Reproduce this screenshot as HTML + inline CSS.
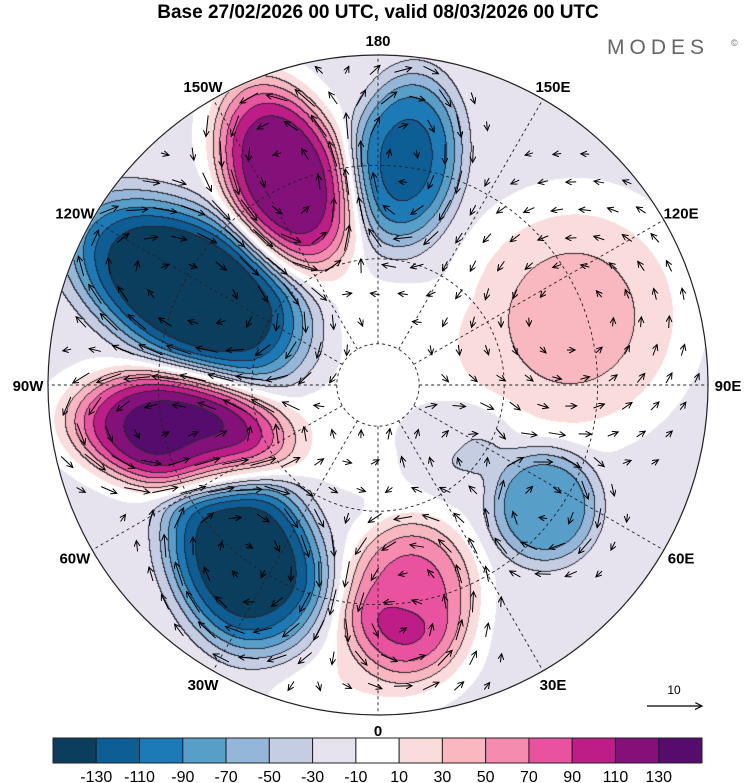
<!DOCTYPE html>
<html><head><meta charset="utf-8">
<style>
html,body{margin:0;padding:0;background:#fff;}
body{width:750px;height:783px;overflow:hidden;position:relative;font-family:"Liberation Sans",sans-serif;}
canvas,svg{position:absolute;left:0;top:0;}
svg text{font-family:"Liberation Sans",sans-serif;}
</style></head>
<body>
<canvas id="field" width="750" height="783"></canvas>
<svg id="chart" width="750" height="783" viewBox="0 0 750 783" xmlns="http://www.w3.org/2000/svg">
<text x="378" y="18" text-anchor="middle" font-size="19" font-weight="bold">Base 27/02/2026 00 UTC, valid 08/03/2026 00 UTC</text>
<text x="607" y="54" font-size="21" fill="#666" letter-spacing="5">MODES</text>
<text x="731" y="46" font-size="9" fill="#666">©</text>
<defs><clipPath id="clipc"><circle cx="378" cy="385" r="330"/></clipPath>
<marker id="ah" markerWidth="8" markerHeight="8" refX="6" refY="3" orient="auto"><path d="M0,0 L6,3 L0,6" fill="none" stroke="#000" stroke-width="1"/></marker></defs>
<g id="plot" clip-path="url(#clipc)"></g>
<circle cx="378" cy="385" r="330" fill="none" stroke="#222" stroke-width="1.2"/>
<g id="labels"></g>
<g id="cbar"></g>
<text x="674" y="694" text-anchor="middle" font-size="12">10</text>
<line x1="647" y1="706" x2="702" y2="706" stroke="#000" stroke-width="1.2" marker-end="url(#ah)"/>
</svg>
<script>
// anomaly centres (data)
const blobLon = [-156, 173, -117, -77, -37, 8.5, 54, 109, 53, -5];
const blobLat = [38, 38.6, 41.8, 43, 40, 41, 42.8, 43, 68, 30];
const blobAmp = [145, -100, -145, 155, -135, 92, -75, 50, -22, 25];
const blobSx = [62, 55, 130, 108, 74, 66, 54, 110, 60, 110];
const blobSy = [100, 86, 74, 60, 102, 80, 58, 115, 45, 60];
const blobRot = [-22, 8, 30, 8, -25, 5, 0, 20, 0, 0];
const bgAmp = [-15];
const cbarLabels = [-130, -110, -90, -70, -50, -30, -10, 10, 30, 50, 70, 90, 110, 130];
const negColors = ["#e6e3ef", "#c5cde3", "#94b6d8", "#579fc9", "#1c7bb6", "#0d5e94", "#0b3d5c"];
const posColors = ["#fbdcdc", "#f9b8bf", "#f68bb0", "#e8529e", "#be1c86", "#84107a", "#550c6c"];
const lonLabels = ["180","150E","120E","90E","60E","30E","0","30W","60W","90W","120W","150W"];
const lonLabelDeg = [180,150,120,90,60,30,0,-30,-60,-90,-120,-150];

const NS = "http://www.w3.org/2000/svg";
const CX = 378, CY = 385, R = 471;
function proj(lon, lat) {
  const r = R * Math.tan((90 - lat) * Math.PI / 360);
  const a = lon * Math.PI / 180;
  return [CX + r * Math.sin(a), CY + r * Math.cos(a)];
}
function mk(tag, attrs, parent) {
  const e = document.createElementNS(NS, tag);
  for (const k in attrs) e.setAttribute(k, attrs[k]);
  parent.appendChild(e);
  return e;
}
const centers = blobLon.map((l, i) => proj(l, blobLat[i]));
function field(x, y) {
  const rr = Math.hypot(x - CX, y - CY);
  const t = Math.max(0, Math.min(1, (rr - 70) / 60));
  let s = bgAmp[0] * t;
  for (let i = 0; i < blobAmp.length; i++) {
    const a = blobRot[i] * Math.PI / 180;
    const dx = x - centers[i][0], dy = y - centers[i][1];
    const u = (dx * Math.cos(a) + dy * Math.sin(a)) / blobSx[i];
    const v = (-dx * Math.sin(a) + dy * Math.cos(a)) / blobSy[i];
    const d2 = u * u + v * v;
    s += blobAmp[i] * Math.exp(-d2 * d2);
  }
  return s;
}
const allColors = negColors.slice().reverse().concat(["#ffffff"]).concat(posColors);
function hex(c) { return [parseInt(c.substr(1,2),16), parseInt(c.substr(3,2),16), parseInt(c.substr(5,2),16)]; }
const rgb = allColors.map(hex);
function idx(v) { return Math.max(0, Math.min(14, Math.floor((v + 150) / 20))); }
const cv = document.getElementById("field"), ctx = cv.getContext("2d");
const W = 750, H = 783;
const img = ctx.createImageData(W, H);
const idxs = new Int8Array(W * H).fill(-1);
for (let y = 50; y < 720; y++) for (let x = 44; x < 712; x++) {
  if (Math.hypot(x - CX, y - CY) > 330) continue;
  idxs[y * W + x] = idx(field(x, y));
}
for (let y = 0; y < H; y++) for (let x = 0; x < W; x++) {
  const k = idxs[y * W + x]; if (k < 0) continue;
  let c = rgb[k];
  const r = idxs[y * W + x + 1], b = idxs[(y + 1) * W + x];
  if ((r >= 0 && r !== k && (Math.abs(r - 7) > 1 || Math.abs(k - 7) > 1)) ||
      (b >= 0 && b !== k && (Math.abs(b - 7) > 1 || Math.abs(k - 7) > 1))) c = [40, 40, 50];
  const p = (y * W + x) * 4;
  img.data[p] = c[0]; img.data[p + 1] = c[1]; img.data[p + 2] = c[2]; img.data[p + 3] = 255;
}
ctx.putImageData(img, 0, 0);

const plot = document.getElementById("plot");
const grid = mk("g", { stroke: "#222", "stroke-width": 0.9, "stroke-dasharray": "3,3", fill: "none" }, plot);


[80, 60, 40].forEach(lat => {
  const r = R * Math.tan((90 - lat) * Math.PI / 360);
  mk("circle", { cx: CX, cy: CY, r: r }, grid);
});
for (let lon = 0; lon < 360; lon += 30) {
  const [x1, y1] = proj(lon, 80), [x2, y2] = proj(lon, 15);
  mk("line", { x1, y1, x2, y2 }, grid);
}
const arr = mk("g", { stroke: "#000", "stroke-width": 1, fill: "none" }, plot);


for (let y = 70; y < 710; y += 28) for (let x = 60; x < 700; x += 28) {
  const xx = x + ((y / 28) % 2) * 14;
  const rr = Math.hypot(xx - CX, y - CY);
  if (rr > 322 || rr < 45) continue;
  const h = 2;
  const gx = (field(xx + h, y) - field(xx - h, y)) / (2 * h), gy = (field(xx, y + h) - field(xx, y - h)) / (2 * h);
  let vx = -gy, vy = gx;
  const m = Math.hypot(vx, vy);
  if (m < 0.03) continue;
  const L = Math.min(26, 8 + m * 6);
  vx /= m; vy /= m;
  mk("line", { x1: xx - vx * L / 2, y1: y - vy * L / 2, x2: xx + vx * L / 2, y2: y + vy * L / 2, "marker-end": "url(#ah)" }, arr);
}
const lab = document.getElementById("labels");
lonLabels.forEach((t, i) => {
  const a = lonLabelDeg[i] * Math.PI / 180;
  const x = CX + 350 * Math.sin(a), y = CY + 345 * Math.cos(a) + 6;
  const e = mk("text", { x, y, "text-anchor": "middle", "font-size": 15, "font-weight": "bold" }, lab);
  e.textContent = t;
  
  
});
const cb = document.getElementById("cbar");
const bx0 = 53, bw = (702 - 53) / 15;
allColors.forEach((c, i) => {
  const r = mk("rect", { x: bx0 + i * bw, y: 738, width: bw, height: 25, fill: c, stroke: "#222", "stroke-width": 1 }, cb);
  
  
});
cbarLabels.forEach((v, i) => {
  const t = mk("text", { x: bx0 + (i + 1) * bw, y: 782, "text-anchor": "middle", "font-size": 16 }, cb);
  t.textContent = v;
  
  
});
</script>
</body></html>
